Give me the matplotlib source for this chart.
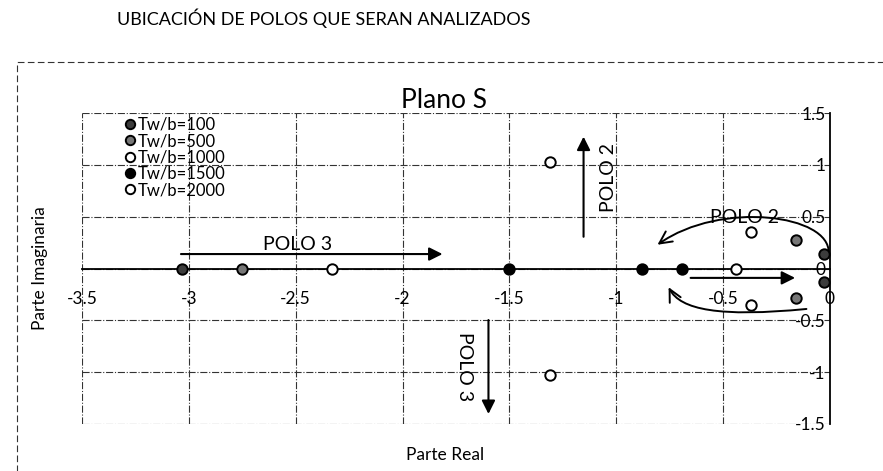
import matplotlib
matplotlib.use("Agg")
import matplotlib.pyplot as plt
from matplotlib.patches import FancyArrowPatch, Rectangle
from matplotlib.path import Path

plt.rcParams['font.family'] = ['Lato', 'DejaVu Sans']

# polos (real, imaginario)
series = ["Tw/b=100", "Tw/b=500", "Tw/b=1000", "Tw/b=1500", "Tw/b=2000"]
real_parts = [
    [-3.03, -0.03, -0.03],
    [-2.75, -0.16, -0.16],
    [-2.33, -0.37, -0.37],
    [-1.50, -0.88, -0.69],
    [-1.31, -1.31, -0.44],
]
imag_parts = [
    [0.0, 0.14, -0.13],
    [0.0, 0.28, -0.28],
    [0.0, 0.35, -0.35],
    [0.0, 0.0, 0.0],
    [1.03, -1.03, 0.0],
]
face_colors = ["#3c3c3c", "#777777", "white", "black", "white"]

x_ticks = [-3.5, -3, -2.5, -2, -1.5, -1, -0.5, 0]
y_ticks = [-1.5, -1, -0.5, 0, 0.5, 1, 1.5]

fig = plt.figure(figsize=(8.83, 4.71), dpi=100)
ax = fig.add_axes([0.0929, 0.0998, 0.847, 0.660])

for name, xs, ys, fc in zip(series, real_parts, imag_parts, face_colors):
    ax.plot(xs, ys, 'o', ms=7.5, mfc=fc, mec='black', mew=1.4, label=name, zorder=5)

ax.set_xlim(-3.5, 0)
ax.set_ylim(-1.5, 1.5)
ax.set_xticks(x_ticks)
ax.set_yticks(y_ticks)
ax.set_xticklabels([f"{v:g}" for v in x_ticks])
ax.set_yticklabels([f"{v:g}" for v in y_ticks])

ax.spines['bottom'].set_position(('data', 0))
ax.spines['left'].set_position(('data', 0))
ax.spines['top'].set_visible(False)
ax.spines['right'].set_visible(False)
for s in ('bottom', 'left'):
    ax.spines[s].set_linewidth(1.3)
ax.tick_params(axis='both', length=0, labelsize=12.5)
ax.tick_params(axis='x', pad=16)
ax.tick_params(axis='y', pad=3)
ax.grid(True, linestyle='-.', color='#333333', linewidth=0.8)
ax.set_axisbelow(True)

ax.set_title("Plano S", fontsize=19, pad=1, x=0.484)
ax.set_xlabel("Parte Real", fontsize=12.5)
ax.xaxis.set_label_coords(0.486, -0.075)
ax.set_ylabel("Parte Imaginaria", fontsize=12.5)
ax.yaxis.set_label_coords(-0.045, 0.5)

ax.legend(loc='upper left', bbox_to_anchor=(0.046, 1.01), frameon=False,
          fontsize=12, handletextpad=0.1, labelspacing=0.02,
          handlelength=0.8, borderaxespad=0, markerscale=0.9)

# flechas y textos
arrow_kw = dict(arrowstyle='-|>', mutation_scale=20, color='black', lw=1.5)
ax.add_patch(FancyArrowPatch((-3.05, 0.14), (-1.80, 0.14), **arrow_kw))
ax.text(-2.49, 0.15, "POLO 3", fontsize=14, ha='center', va='bottom')

ax.add_patch(FancyArrowPatch((-1.153, 0.28), (-1.153, 1.30), **arrow_kw))
ax.text(-1.035, 0.88, "POLO 2", fontsize=14, rotation=90, ha='center', va='center')

ax.add_patch(FancyArrowPatch((-1.598, -0.47), (-1.598, -1.43), **arrow_kw))
ax.text(-1.71, -0.95, "POLO 3", fontsize=14, rotation=-90, ha='center', va='center')

ax.add_patch(FancyArrowPatch((-0.665, -0.09), (-0.15, -0.09), **arrow_kw))

ax.text(-0.40, 0.49, "POLO 2", fontsize=14, ha='center', va='center')
curve_kw = dict(arrowstyle='->', mutation_scale=22, color='black', lw=1.4)
upper = Path([(-0.006, 0.15), (0.003, 0.52), (-0.51, 0.66), (-0.807, 0.23)],
             [Path.MOVETO, Path.CURVE4, Path.CURVE4, Path.CURVE4])
lower = Path([(-0.11, -0.39), (-0.515, -0.47), (-0.70, -0.40), (-0.755, -0.18)],
             [Path.MOVETO, Path.CURVE4, Path.CURVE4, Path.CURVE4])
ax.add_patch(FancyArrowPatch(path=upper, **curve_kw))
ax.add_patch(FancyArrowPatch(path=lower, **curve_kw))

fig.text(117 / 883, 1 - 18 / 471, "UBICACIÓN DE POLOS QUE SERAN ANALIZADOS",
         fontsize=13, ha='left', va='center')

fig.patches.append(Rectangle((17 / 883, -0.01), 1.2, 1 - 62 / 471 + 0.01,
                             transform=fig.transFigure, fill=False,
                             linestyle=(0, (6, 3)), linewidth=0.8, edgecolor='#333333'))

fig.savefig("out.png", dpi=100)
